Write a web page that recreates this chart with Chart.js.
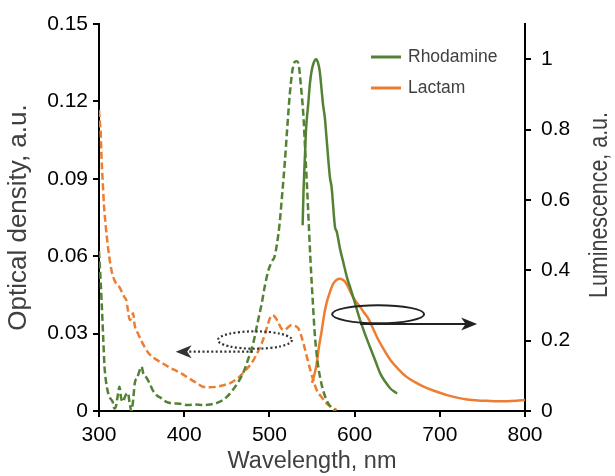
<!DOCTYPE html>
<html><head><meta charset="utf-8">
<script src="https://cdn.jsdelivr.net/npm/chart.js@4"></script>
<style>html,body{margin:0;padding:0;background:#fff}canvas{display:block}</style>
</head><body>
<canvas id="c" width="615" height="476"></canvas>
<script>
// ---- tick labels ----
const xTicks = [300, 400, 500, 600, 700, 800];
const odTicks = [0, 0.03, 0.06, 0.09, 0.12, 0.15];
const lumTicks = [0, 0.2, 0.4, 0.6, 0.8, 1];

// ---- Rhodamine absorption (optical density, left axis) ----
const rhodAbsWl = [300,302,303,305,306.5,308,310,313,316,318,320,322,324,326,328,331,334,336,338,340,342,345,348,350,352,355,359,363,368,373,379,385,395,404,413,422,430,442,450,457,463,469,475,481,486,491,495,499,503,506,509,512,515,518,521,524,527,530,532,534,537,540,542,544,546,548,551,553.5,557,561,565,569,573,577];
const rhodAbsOD = [0.062,0.05,0.043,0.028,0.017,0.012,0.008,0.005,0.0036,0.001,0.002,0.006,0.0094,0.005,0.0036,0.006,0.007,0.003,0.0,0.004,0.0108,0.013,0.016,0.0172,0.0145,0.0133,0.011,0.0081,0.006,0.005,0.0035,0.003,0.0028,0.0023,0.0025,0.0023,0.0025,0.0036,0.0055,0.0081,0.011,0.0146,0.02,0.0262,0.034,0.0417,0.049,0.0547,0.058,0.0598,0.065,0.0727,0.084,0.096,0.11,0.123,0.132,0.1354,0.1356,0.1348,0.126,0.114,0.101,0.088,0.074,0.0598,0.042,0.0288,0.018,0.0107,0.006,0.003,0.0012,0.0];

// ---- Lactam absorption (optical density, left axis) ----
const lactAbsWl = [300,301,302,303,304.5,306,308,310,312,315,318,321,324,327,330,332,334,336,338,340,342,345.6,350,353.5,358,365,372,381,388,396.7,404,412,418,422,430,438,446,453.5,460,465,472,479,485,491,495,498.6,501,504,507,510,514,518,522,526,530,534,537,540,544,548,552,555.5,561,567,573,579];
const lactAbsOD = [0.1167,0.112,0.1077,0.098,0.088,0.079,0.0714,0.065,0.0598,0.054,0.0508,0.049,0.048,0.046,0.044,0.043,0.039,0.0353,0.036,0.0379,0.033,0.0301,0.027,0.0249,0.0225,0.0204,0.019,0.0172,0.016,0.0146,0.013,0.0114,0.0101,0.0094,0.0092,0.0094,0.01,0.0107,0.012,0.0133,0.0158,0.0185,0.022,0.0262,0.03,0.034,0.0362,0.0372,0.0362,0.0346,0.032,0.0314,0.0325,0.0333,0.033,0.032,0.0295,0.0262,0.021,0.0159,0.0115,0.0081,0.0055,0.003,0.0015,0.0004];

// ---- Rhodamine luminescence (right axis) ----
const rhodLumWl = [539,540,541.8,543,545.6,547.5,549.6,552,554.7,557,559,561,563,565,567,571,573,577,579,583,587,591,595,600,606.5,612,618,624,630,636,642,646,650];
const rhodLumI = [0.528,0.62,0.73,0.8,0.873,0.93,0.967,0.99,1.0,0.99,0.967,0.92,0.87,0.835,0.778,0.665,0.636,0.523,0.51,0.46,0.42,0.38,0.35,0.31,0.258,0.22,0.182,0.145,0.107,0.083,0.064,0.056,0.05];

// ---- Lactam luminescence (right axis) ----
const lactLumWl = [550,553,555.5,558,561.5,564,567,571,575,579,583,586,589,593,597,601,606.5,611,616,621,626,634,642,651,661,671,681,695,708.5,720,732,745,755.5,767,779,790,800];
const lactLumI = [0.08,0.105,0.135,0.18,0.23,0.27,0.306,0.338,0.362,0.373,0.376,0.373,0.367,0.35,0.329,0.313,0.296,0.28,0.263,0.238,0.211,0.176,0.145,0.12,0.097,0.082,0.069,0.056,0.045,0.038,0.033,0.03,0.029,0.028,0.028,0.029,0.031];

// ---- legend entries ----
const legendNames = ['Rhodamine', 'Lactam'];

// ---- annotation anchors (data units) ----
const absMarker = {cx: 483, cy: 0.0275, arrowFrom: 480.6, arrowTo: 390, arrowY: 0.023};
const lumMarker = {cx: 627.6, cy: 0.275, arrowFrom: 606.5, arrowTo: 743.8, arrowY: 0.247};

const GREEN = '#548235', ORANGE = '#ED7D31';
const FONT = "'Liberation Sans', Arial, sans-serif";
const pts = (xs, ys) => xs.map((x, i) => ({x, y: ys[i]}));
const fixTicks = vals => s => { s.ticks = vals.map(v => ({value: v})); };

function arrowHead(ctx, tipX, y, dir, len, half) {
  ctx.beginPath();
  ctx.moveTo(tipX, y);
  ctx.lineTo(tipX - dir * len, y - half);
  ctx.lineTo(tipX - dir * len * 0.72, y);
  ctx.lineTo(tipX - dir * len, y + half);
  ctx.closePath();
  ctx.fill();
}

const decor = {
  id: 'decor',
  afterDatasetsDraw(chart) {
    const ctx = chart.ctx, sx = chart.scales.x, sy = chart.scales.y, sy2 = chart.scales.y2;
    ctx.save();
    // dotted ellipse + arrow (absorption -> left axis)
    ctx.strokeStyle = '#333'; ctx.fillStyle = '#333';
    ctx.lineWidth = 2.2; ctx.setLineDash([2, 2.4]);
    let cx = sx.getPixelForValue(absMarker.cx), cy = sy.getPixelForValue(absMarker.cy);
    ctx.beginPath(); ctx.ellipse(cx, cy, 37, 8.7, 0, 0, Math.PI * 2); ctx.stroke();
    let ay = sy.getPixelForValue(absMarker.arrowY);
    let x0 = sx.getPixelForValue(absMarker.arrowFrom), x1 = sx.getPixelForValue(absMarker.arrowTo);
    ctx.beginPath(); ctx.moveTo(x0, ay); ctx.lineTo(x1 + 12, ay); ctx.stroke();
    ctx.setLineDash([]);
    arrowHead(ctx, x1, ay, -1, 16, 6.5);
    // solid ellipse + arrow (luminescence -> right axis)
    ctx.strokeStyle = '#222'; ctx.fillStyle = '#222'; ctx.lineWidth = 2;
    cx = sx.getPixelForValue(lumMarker.cx); cy = sy2.getPixelForValue(lumMarker.cy);
    ctx.beginPath(); ctx.ellipse(cx, cy, 46, 9, 0, 0, Math.PI * 2); ctx.stroke();
    ay = sy2.getPixelForValue(lumMarker.arrowY);
    x0 = sx.getPixelForValue(lumMarker.arrowFrom); x1 = sx.getPixelForValue(lumMarker.arrowTo);
    ctx.beginPath(); ctx.moveTo(x0, ay); ctx.lineTo(x1 - 10, ay); ctx.stroke();
    arrowHead(ctx, x1, ay, 1, 16, 6.5);
    ctx.restore();
  },
  afterDraw(chart) {
    const ctx = chart.ctx;
    ctx.save();
    // legend
    const cols = [GREEN, ORANGE], ys = [57, 88];
    ctx.font = '17.5px ' + FONT; ctx.textBaseline = 'middle'; ctx.textAlign = 'left';
    legendNames.forEach((n, i) => {
      ctx.strokeStyle = cols[i]; ctx.lineWidth = 3;
      ctx.beginPath(); ctx.moveTo(371, ys[i]); ctx.lineTo(401, ys[i]); ctx.stroke();
      ctx.fillStyle = '#404040'; ctx.fillText(n, 408, ys[i]);
    });
    // right axis title (reads bottom-to-top)
    const t = 'Luminescence, a.u.';
    ctx.font = '25px ' + FONT; ctx.fillStyle = '#404040';
    ctx.textAlign = 'center'; ctx.textBaseline = 'middle';
    const w = ctx.measureText(t).width;
    ctx.translate(600, 205); ctx.rotate(-Math.PI / 2); ctx.scale(186 / w, 1);
    ctx.fillText(t, 0, 0);
    ctx.restore();
  }
};

const absStyle = {borderWidth: 2.5, borderDash: [7, 3.5], pointRadius: 0, fill: false, cubicInterpolationMode: 'monotone'};
const lumStyle = {borderWidth: 2.5, pointRadius: 0, fill: false, cubicInterpolationMode: 'monotone'};

const axisGrid = {display: true, drawOnChartArea: false, drawTicks: true, tickLength: 6, color: '#000', lineWidth: 2};
const axisBorder = {display: true, color: '#000', width: 2};

new Chart(document.getElementById('c'), {
  type: 'line',
  data: {
    datasets: [
      Object.assign({label: 'Rhodamine absorption', data: pts(rhodAbsWl, rhodAbsOD), borderColor: GREEN, yAxisID: 'y'}, absStyle),
      Object.assign({label: 'Lactam absorption', data: pts(lactAbsWl, lactAbsOD), borderColor: ORANGE, yAxisID: 'y'}, absStyle),
      Object.assign({label: 'Rhodamine luminescence', data: pts(rhodLumWl, rhodLumI), borderColor: GREEN, yAxisID: 'y2'}, lumStyle),
      Object.assign({label: 'Lactam luminescence', data: pts(lactLumWl, lactLumI), borderColor: ORANGE, yAxisID: 'y2'}, lumStyle)
    ]
  },
  options: {
    responsive: false, animation: false, devicePixelRatio: 1,
    layout: {padding: {top: 24, left: 0, right: 0, bottom: 0}},
    plugins: {legend: {display: false}, tooltip: {enabled: false}},
    scales: {
      x: {
        type: 'linear', min: 300, max: 800,
        afterBuildTicks: fixTicks(xTicks),
        ticks: {font: {family: FONT, size: 21}, color: '#000', padding: 6, maxRotation: 0, callback: v => String(v)},
        grid: axisGrid, border: axisBorder,
        title: {display: true, text: 'Wavelength, nm', font: {family: FONT, size: 23.5}, color: '#404040', padding: {top: 0, bottom: 0}},
        afterFit: s => { s.height = 65; }
      },
      y: {
        position: 'left', min: 0, max: 0.15,
        afterBuildTicks: fixTicks(odTicks),
        ticks: {font: {family: FONT, size: 21}, color: '#000', padding: 5, callback: v => v === 0 ? '0' : v.toFixed(2)},
        grid: axisGrid, border: axisBorder,
        title: {display: true, text: 'Optical density, a.u.', font: {family: FONT, size: 26}, color: '#404040', padding: {top: 3, bottom: 0}},
        afterFit: s => { s.width = 99; }
      },
      y2: {
        position: 'right', min: 0, max: 1.1,
        afterBuildTicks: fixTicks(lumTicks),
        ticks: {font: {family: FONT, size: 21}, color: '#000', padding: 10, callback: v => String(Math.round(v * 10) / 10)},
        grid: axisGrid, border: axisBorder,
        afterFit: s => { s.width = 90; }
      }
    }
  },
  plugins: [decor]
});
</script>
</body></html>
